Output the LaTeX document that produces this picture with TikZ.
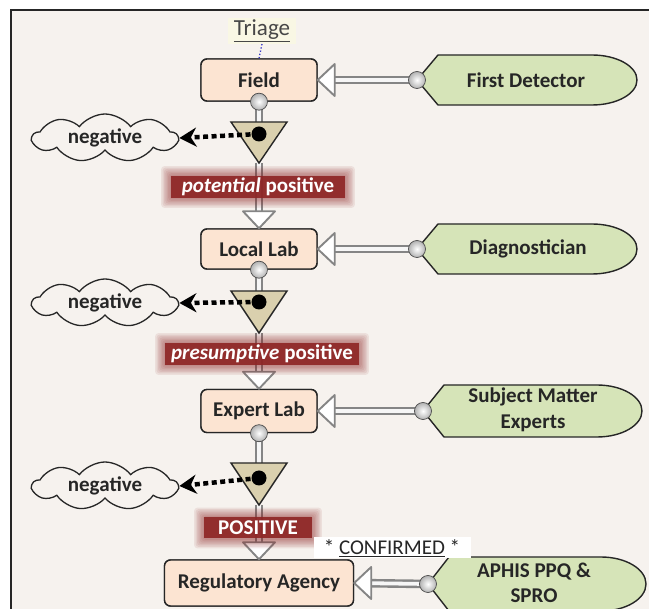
\documentclass[tikz,border=0pt]{standalone}
\usepackage{fontspec}
\setmainfont{Carlito}
\usetikzlibrary{shapes.symbols,arrows.meta}
\definecolor{bg}{HTML}{F6F2EE}
\definecolor{peach}{HTML}{FCE4D2}
\definecolor{lgreen}{HTML}{D6E4B8}
\definecolor{tanc}{HTML}{DAD0AE}
\definecolor{glowred}{HTML}{8E2626}
\definecolor{connGray}{HTML}{858585}
\definecolor{ink}{HTML}{262626}
\definecolor{hilite}{HTML}{F9F7E4}
\tikzset{
  txt/.style={font=\fontsize{21}{25}\selectfont\bfseries, text=ink},
  box/.style={txt, draw=ink, line width=1.4pt, fill=peach, rounded corners=6pt,
    minimum width=116pt, minimum height=42pt, inner sep=0pt},
  gshape/.style={draw=ink, line width=1.4pt, fill=lgreen},
  gtext/.style={txt, align=center, inner sep=0pt},
  conn/.style={draw=connGray, line width=2.4pt, double=white!93!gray, double distance=3.8pt},
  headst/.style={draw=connGray, line width=1.9pt, fill=white, line join=round},
  ball/.style={circle, minimum size=17pt, inner sep=0pt, draw=gray!60!black,
    line width=0.7pt, inner color=white, outer color=gray!60},
  tri/.style={draw=ink, line width=1.4pt, fill=tanc, line join=miter},
  dotn/.style={circle, fill=black, minimum size=15pt, inner sep=0pt},
  cloudn/.style={cloud, draw=ink, line width=1.3pt, fill=bg, cloud puffs=9,
    cloud puff arc=105, cloud ignores aspect, minimum width=145pt,
    minimum height=48pt, inner sep=0pt, txt},
  dotarrow/.style={line width=4.5pt, dash pattern=on 5pt off 3.5pt,
    -{Stealth[length=17pt,width=19pt]}},
  lab/.style={fill=glowred, fill opacity=0.92, text opacity=1, text=white,
    font=\fontsize{21}{25}\selectfont\bfseries, inner sep=0pt}
}
% green shape: #1 x left, #2 y mid, #3 half height, #4 x right
\newcommand\greenshape[4]{%
  \filldraw[gshape] (#1,#2) -- ({#1+21},{#2-#3}) -- ({#4-45},{#2-#3})
    arc[start angle=90, end angle=-90, x radius=45pt, y radius=#3pt]
    -- ({#1+21},{#2+#3}) -- cycle;}
\newcommand\headdown[1]{%
  \filldraw[headst] (#1) -- ++(-16pt,17pt) -- ++(32pt,0pt) -- cycle;}
\newcommand\headleft[1]{%
  \filldraw[headst] (#1) -- ++(17pt,16pt) -- ++(0pt,-32pt) -- cycle;}
% glowing label: name, x, y, w, h, text
\newcommand\glowlab[6]{%
  \foreach \k in {1,...,7}{%
    \fill[glowred, opacity=0.09, rounded corners=3pt]
      ({#2-#4/2-\k*1.4},{#3-#5/2-\k*1.4}) rectangle ({#2+#4/2+\k*1.4},{#3+#5/2+\k*1.4});}
  \node[lab, minimum width=#4pt, minimum height=#5pt] (#1) at (#2,#3) {#6};}

\begin{document}
\begin{tikzpicture}[x=1pt,y=-1pt]
\useasboundingbox (0,0) rectangle (649,609);
\fill[white] (0,0) rectangle (649,609);
\fill[bg] (11,10) rectangle (649,609);
\draw[line width=2pt, ink] (11,609) -- (11,10) -- (649,10);

% green shapes
\greenshape{417}{80}{25}{637}
\coordinate (fdL) at (417,80);
\node[gtext] (fd) at (526,80) {First Detector};
\greenshape{417}{249}{25}{637}
\coordinate (diagL) at (417,249);
\node[gtext] (diag) at (528,249) {Diagnostician};
\greenshape{423}{411}{26}{642}
\coordinate (smeL) at (423,411);
\node[gtext, font=\fontsize{21}{26}\selectfont\bfseries] (sme) at (533,410) {Subject Matter\\Experts};
\greenshape{428}{584}{27}{646}
\coordinate (aphL) at (428,584);
\node[gtext, font=\fontsize{21}{25}\selectfont\bfseries] (aph) at (534,583) {APHIS PPQ \&\\SPRO};

% triangle reference points
\coordinate (t1top) at (259,122); \coordinate (t1apex) at (259,163);
\coordinate (t2top) at (259,291); \coordinate (t2apex) at (259,333);
\coordinate (t3top) at (259,463); \coordinate (t3apex) at (259,505);

% boxes (anchors)
\path node[box] (field) at (259,80) {Field};
\path node[box, minimum height=40pt] (local) at (259,249) {Local Lab};
\path node[box, minimum height=43pt] (expert) at (259,411) {Expert Lab};
\path node[box, minimum width=189pt, minimum height=46pt] (reg) at (259,583) {Regulatory Agency};

% stems
\draw[conn] (field.south) -- (t1top);
\draw[conn, shorten >=17pt] (t1apex) -- (local.north);
\draw[conn] (local.south) -- (t2top);
\draw[conn, shorten >=17pt] (t2apex) -- (expert.north);
\draw[conn] (expert.south) -- (t3top);
\draw[conn, shorten >=17pt] (t3apex) -- (reg.north);
% side connectors
\draw[conn, shorten >=17pt] (fdL) -- (field.east);
\draw[conn, shorten >=17pt] (diagL) -- (local.east);
\draw[conn, shorten >=17pt] (smeL) -- (expert.east);
\draw[conn, shorten >=17pt] (aphL) -- (reg.east);

% boxes drawn
\node[box] at (field) {Field};
\node[box, minimum height=40pt] at (local) {Local Lab};
\node[box, minimum height=43pt] at (expert) {Expert Lab};
\node[box, minimum width=189pt, minimum height=46pt] at (reg) {Regulatory Agency};

% triangles
\filldraw[tri] (231,122) -- (287,122) -- (t1apex) -- cycle;
\filldraw[tri] (231,291) -- (287,291) -- (t2apex) -- cycle;
\filldraw[tri] (231,463) -- (287,463) -- (t3apex) -- cycle;

% clouds
\node[cloudn] (neg1) at (105,138) {negative};
\node[cloudn] (neg2) at (105,303) {negative};
\node[cloudn] (neg3) at (105,486) {negative};

% dots and dotted arrows
\coordinate (d1c) at (259,134);
\coordinate (d2c) at (259,302);
\coordinate (d3c) at (259,478);
\draw[dotarrow] (d1c) -- (neg1.east);
\draw[dotarrow] (d2c) -- (neg2.east);
\draw[dotarrow] (d3c) -- (neg3.east);
\node[dotn] (d1) at (d1c) {};
\node[dotn] (d2) at (d2c) {};
\node[dotn] (d3) at (d3c) {};

% balls
\node[ball] at (field.south) {};
\node[ball] at (local.south) {};
\node[ball] at (expert.south) {};
\node[ball] at (fdL) {};
\node[ball] at (diagL) {};
\node[ball] at (smeL) {};
\node[ball] at (aphL) {};

% arrow heads
\headdown{local.north}
\headdown{expert.north}
\headdown{reg.north}
\headleft{field.east}
\headleft{local.east}
\headleft{expert.east}
\headleft{reg.east}

% labels
\glowlab{lab1}{258}{187}{174}{22}{\textit{potential} positive}
\glowlab{lab2}{262}{354}{194}{22}{\textit{presumptive} positive}
\glowlab{lab3}{258}{528}{108}{21}{POSITIVE}

% triage
\node[fill=hilite, inner xsep=6pt, inner ysep=2pt, font=\fontsize{23}{26}\selectfont, text=ink!85] (triage) at (262,31) {\underline{Triage}};
\draw[dotted, line width=1.3pt, blue!55!gray] (triage.south) -- (field.north);

% confirmed
\node[fill=white, minimum width=157pt, minimum height=21pt, inner sep=0pt,
  font=\fontsize{21}{25}\selectfont, text=ink] (conf) at (392,548) {* \underline{CONFIRMED} *};
\end{tikzpicture}
\end{document}
